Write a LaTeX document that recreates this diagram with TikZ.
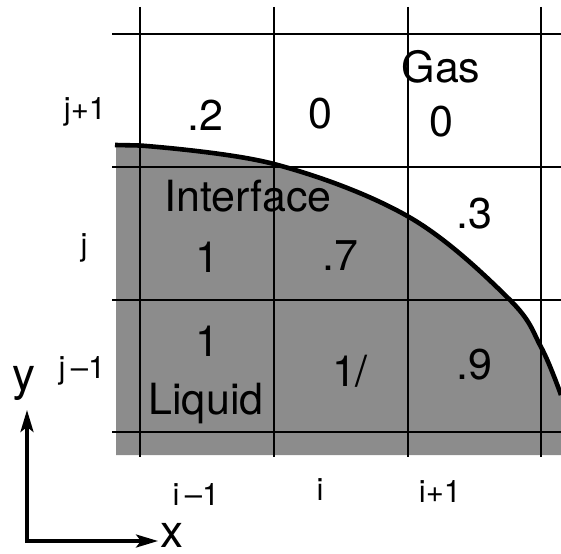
\documentclass[tikz,border=0pt]{standalone}
\usepackage{fontspec}
\setmainfont{TeX Gyre Heros}
\usetikzlibrary{arrows.meta}
\begin{document}
\begin{tikzpicture}[x=1pt,y=-1pt,
  gridline/.style={line width=1.3pt},
  liquid/.style={fill=black!45},
  iface/.style={line width=4.6pt},
  axis/.style={line width=3.4pt,{Stealth[length=22pt,width=13pt,inset=5pt]}-{Stealth[length=22pt,width=13pt,inset=5pt]}},
  big/.style={font=\fontsize{43}{43}\selectfont, inner sep=0pt},
  idx/.style={font=\fontsize{31}{31}\selectfont, inner sep=0pt},
  axlab/.style={font=\fontsize{46}{46}\selectfont, inner sep=0pt}]
\useasboundingbox (0,0) rectangle (561,553);
% liquid region
\fill[liquid] (116,145) -- plot[smooth, tension=0.6] coordinates {(140,145.5) (274,164) (409,217) (509,299) (541,347) (561,395)} -- (561,455) -- (116,455) -- cycle;
% grid
\foreach \x in {140,274,408,541} \draw[gridline] (\x,7) -- (\x,457);
\foreach \y in {34,167,300,432} \draw[gridline] (112,\y) -- (561,\y);
% interface
\draw[iface] (115,145) -- plot[smooth, tension=0.6] coordinates {(140,145.5) (274,164) (409,217) (509,299) (541,347) (561,395)};
% cell values
\node[big] (c1) at (205,115) {.2};
\node[big] (c2) at (320,114) {0};
\node[big] (gas) at (441,67) {Gas};
\node[big] (c3) at (441,122) {0};
\node[big] (intf) at (248,196) {Interface};
\node[big] (c4) at (207,257) {1};
\node[big] (c5) at (340,256) {.7};
\node[big] (c6) at (474,214) {.3};
\node[big] (c7) at (207,341) {1};
\node[big] (c8) at (350,371) {1/};
\node[big] (c9) at (474,365) {.9};
\node[big] (liq) at (206,404) {Liquid};
% indices
\node[idx] (jp) at (85,112) {j+1};
\node[idx] (j) at (84,248) {j};
\node[idx] (jm) at (82,371) {j\,–1};
\node[idx] (im) at (196,495) {i\,–1};
\node[idx] (i) at (320,490) {i};
\node[idx] (ip) at (440,492) {i+1};
% axes
\coordinate (o) at (27,541);
\coordinate (ytip) at (27,410);
\coordinate (xtip) at (158,541);
\draw[axis] (ytip) -- (o) -- (xtip);
\node[axlab] (ylab) at (24,383) {y};
\node[axlab, anchor=west] (xlab) at (160,535) {x};
\end{tikzpicture}
\end{document}
